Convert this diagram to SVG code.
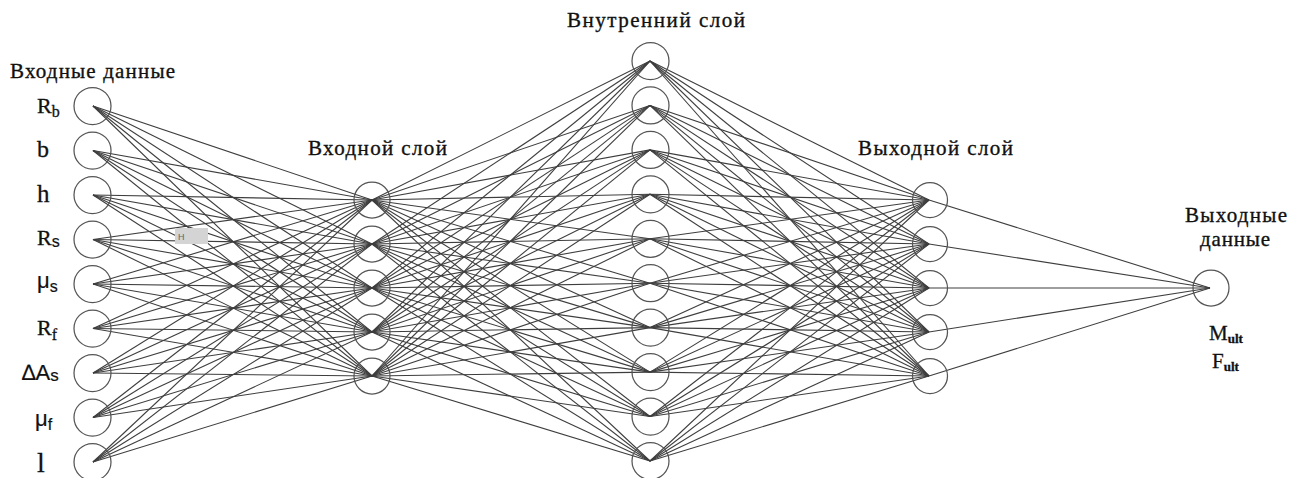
<svg xmlns="http://www.w3.org/2000/svg" width="1289" height="478" viewBox="0 0 1289 478">
  <style>
    .node { fill: none; stroke: #555; stroke-width: 1.25; }
    .edges line { stroke: #3e3e3e; stroke-width: 1.1; }
    .title { font-family: "Liberation Serif", "Times New Roman", serif; font-size: 21px; fill: #111; stroke: #111; stroke-width: 0.35; }
    .serif { font-family: "Liberation Serif", "Times New Roman", serif; fill: #111; stroke: #111; stroke-width: 0.3; }
    .sans { font-family: "Liberation Sans", Arial, sans-serif; fill: #111; stroke: #111; stroke-width: 0.2; }
  </style>
  <rect width="1289" height="478" fill="#fff"/>

  <!-- layer captions -->
  <g id="captions">
    <text class="title" x="10" y="78" textLength="165" lengthAdjust="spacing">Входные данные</text>
    <text class="title" x="308" y="155" textLength="139" lengthAdjust="spacing">Входной слой</text>
    <text class="title" x="567" y="27" textLength="178" lengthAdjust="spacing">Внутренний слой</text>
    <text class="title" x="858" y="155" textLength="155" lengthAdjust="spacing">Выходной слой</text>
    <text class="title" x="1185" y="222" textLength="102" lengthAdjust="spacing">Выходные</text>
    <text class="title" x="1200" y="246" textLength="70" lengthAdjust="spacing">данные</text>
  </g>

  <!-- connectors -->
  <g id="connectors" class="edges">
    <!-- input data -> input layer -->
    <line x1="93" y1="106" x2="372" y2="200"/><line x1="93" y1="106" x2="372" y2="244"/><line x1="93" y1="106" x2="372" y2="288"/><line x1="93" y1="106" x2="372" y2="332"/><line x1="93" y1="106" x2="372" y2="376"/>
    <line x1="93" y1="150.5" x2="372" y2="200"/><line x1="93" y1="150.5" x2="372" y2="244"/><line x1="93" y1="150.5" x2="372" y2="288"/><line x1="93" y1="150.5" x2="372" y2="332"/><line x1="93" y1="150.5" x2="372" y2="376"/>
    <line x1="93" y1="195" x2="372" y2="200"/><line x1="93" y1="195" x2="372" y2="244"/><line x1="93" y1="195" x2="372" y2="288"/><line x1="93" y1="195" x2="372" y2="332"/><line x1="93" y1="195" x2="372" y2="376"/>
    <line x1="93" y1="239.5" x2="372" y2="200"/><line x1="93" y1="239.5" x2="372" y2="244"/><line x1="93" y1="239.5" x2="372" y2="288"/><line x1="93" y1="239.5" x2="372" y2="332"/><line x1="93" y1="239.5" x2="372" y2="376"/>
    <line x1="93" y1="284" x2="372" y2="200"/><line x1="93" y1="284" x2="372" y2="244"/><line x1="93" y1="284" x2="372" y2="288"/><line x1="93" y1="284" x2="372" y2="332"/><line x1="93" y1="284" x2="372" y2="376"/>
    <line x1="93" y1="328.5" x2="372" y2="200"/><line x1="93" y1="328.5" x2="372" y2="244"/><line x1="93" y1="328.5" x2="372" y2="288"/><line x1="93" y1="328.5" x2="372" y2="332"/><line x1="93" y1="328.5" x2="372" y2="376"/>
    <line x1="93" y1="373" x2="372" y2="200"/><line x1="93" y1="373" x2="372" y2="244"/><line x1="93" y1="373" x2="372" y2="288"/><line x1="93" y1="373" x2="372" y2="332"/><line x1="93" y1="373" x2="372" y2="376"/>
    <line x1="93" y1="417.5" x2="372" y2="200"/><line x1="93" y1="417.5" x2="372" y2="244"/><line x1="93" y1="417.5" x2="372" y2="288"/><line x1="93" y1="417.5" x2="372" y2="332"/><line x1="93" y1="417.5" x2="372" y2="376"/>
    <line x1="93" y1="462" x2="372" y2="200"/><line x1="93" y1="462" x2="372" y2="244"/><line x1="93" y1="462" x2="372" y2="288"/><line x1="93" y1="462" x2="372" y2="332"/><line x1="93" y1="462" x2="372" y2="376"/>

    <!-- input layer -> inner layer -->
    <line x1="372" y1="200" x2="650" y2="61"/><line x1="372" y1="200" x2="650" y2="105.4"/><line x1="372" y1="200" x2="650" y2="149.9"/><line x1="372" y1="200" x2="650" y2="194.3"/><line x1="372" y1="200" x2="650" y2="238.8"/><line x1="372" y1="200" x2="650" y2="283.2"/><line x1="372" y1="200" x2="650" y2="327.6"/><line x1="372" y1="200" x2="650" y2="372.1"/><line x1="372" y1="200" x2="650" y2="416.5"/><line x1="372" y1="200" x2="650" y2="461"/>
    <line x1="372" y1="244" x2="650" y2="61"/><line x1="372" y1="244" x2="650" y2="105.4"/><line x1="372" y1="244" x2="650" y2="149.9"/><line x1="372" y1="244" x2="650" y2="194.3"/><line x1="372" y1="244" x2="650" y2="238.8"/><line x1="372" y1="244" x2="650" y2="283.2"/><line x1="372" y1="244" x2="650" y2="327.6"/><line x1="372" y1="244" x2="650" y2="372.1"/><line x1="372" y1="244" x2="650" y2="416.5"/><line x1="372" y1="244" x2="650" y2="461"/>
    <line x1="372" y1="288" x2="650" y2="61"/><line x1="372" y1="288" x2="650" y2="105.4"/><line x1="372" y1="288" x2="650" y2="149.9"/><line x1="372" y1="288" x2="650" y2="194.3"/><line x1="372" y1="288" x2="650" y2="238.8"/><line x1="372" y1="288" x2="650" y2="283.2"/><line x1="372" y1="288" x2="650" y2="327.6"/><line x1="372" y1="288" x2="650" y2="372.1"/><line x1="372" y1="288" x2="650" y2="416.5"/><line x1="372" y1="288" x2="650" y2="461"/>
    <line x1="372" y1="332" x2="650" y2="61"/><line x1="372" y1="332" x2="650" y2="105.4"/><line x1="372" y1="332" x2="650" y2="149.9"/><line x1="372" y1="332" x2="650" y2="194.3"/><line x1="372" y1="332" x2="650" y2="238.8"/><line x1="372" y1="332" x2="650" y2="283.2"/><line x1="372" y1="332" x2="650" y2="327.6"/><line x1="372" y1="332" x2="650" y2="372.1"/><line x1="372" y1="332" x2="650" y2="416.5"/><line x1="372" y1="332" x2="650" y2="461"/>
    <line x1="372" y1="376" x2="650" y2="61"/><line x1="372" y1="376" x2="650" y2="105.4"/><line x1="372" y1="376" x2="650" y2="149.9"/><line x1="372" y1="376" x2="650" y2="194.3"/><line x1="372" y1="376" x2="650" y2="238.8"/><line x1="372" y1="376" x2="650" y2="283.2"/><line x1="372" y1="376" x2="650" y2="327.6"/><line x1="372" y1="376" x2="650" y2="372.1"/><line x1="372" y1="376" x2="650" y2="416.5"/><line x1="372" y1="376" x2="650" y2="461"/>

    <!-- inner layer -> output layer -->
    <line x1="650" y1="61" x2="929" y2="200"/><line x1="650" y1="61" x2="929" y2="244"/><line x1="650" y1="61" x2="929" y2="288"/><line x1="650" y1="61" x2="929" y2="332"/><line x1="650" y1="61" x2="929" y2="376"/>
    <line x1="650" y1="105.4" x2="929" y2="200"/><line x1="650" y1="105.4" x2="929" y2="244"/><line x1="650" y1="105.4" x2="929" y2="288"/><line x1="650" y1="105.4" x2="929" y2="332"/><line x1="650" y1="105.4" x2="929" y2="376"/>
    <line x1="650" y1="149.9" x2="929" y2="200"/><line x1="650" y1="149.9" x2="929" y2="244"/><line x1="650" y1="149.9" x2="929" y2="288"/><line x1="650" y1="149.9" x2="929" y2="332"/><line x1="650" y1="149.9" x2="929" y2="376"/>
    <line x1="650" y1="194.3" x2="929" y2="200"/><line x1="650" y1="194.3" x2="929" y2="244"/><line x1="650" y1="194.3" x2="929" y2="288"/><line x1="650" y1="194.3" x2="929" y2="332"/><line x1="650" y1="194.3" x2="929" y2="376"/>
    <line x1="650" y1="238.8" x2="929" y2="200"/><line x1="650" y1="238.8" x2="929" y2="244"/><line x1="650" y1="238.8" x2="929" y2="288"/><line x1="650" y1="238.8" x2="929" y2="332"/><line x1="650" y1="238.8" x2="929" y2="376"/>
    <line x1="650" y1="283.2" x2="929" y2="200"/><line x1="650" y1="283.2" x2="929" y2="244"/><line x1="650" y1="283.2" x2="929" y2="288"/><line x1="650" y1="283.2" x2="929" y2="332"/><line x1="650" y1="283.2" x2="929" y2="376"/>
    <line x1="650" y1="327.6" x2="929" y2="200"/><line x1="650" y1="327.6" x2="929" y2="244"/><line x1="650" y1="327.6" x2="929" y2="288"/><line x1="650" y1="327.6" x2="929" y2="332"/><line x1="650" y1="327.6" x2="929" y2="376"/>
    <line x1="650" y1="372.1" x2="929" y2="200"/><line x1="650" y1="372.1" x2="929" y2="244"/><line x1="650" y1="372.1" x2="929" y2="288"/><line x1="650" y1="372.1" x2="929" y2="332"/><line x1="650" y1="372.1" x2="929" y2="376"/>
    <line x1="650" y1="416.5" x2="929" y2="200"/><line x1="650" y1="416.5" x2="929" y2="244"/><line x1="650" y1="416.5" x2="929" y2="288"/><line x1="650" y1="416.5" x2="929" y2="332"/><line x1="650" y1="416.5" x2="929" y2="376"/>
    <line x1="650" y1="461" x2="929" y2="200"/><line x1="650" y1="461" x2="929" y2="244"/><line x1="650" y1="461" x2="929" y2="288"/><line x1="650" y1="461" x2="929" y2="332"/><line x1="650" y1="461" x2="929" y2="376"/>

    <!-- output layer -> output data -->
    <line x1="929" y1="200" x2="1210" y2="288"/><line x1="929" y1="244" x2="1210" y2="288"/><line x1="929" y1="288" x2="1210" y2="288"/><line x1="929" y1="332" x2="1210" y2="288"/><line x1="929" y1="376" x2="1210" y2="288"/>
  </g>

  <!-- small grey tag over the first fan -->
  <g id="tag">
    <rect x="175" y="228" width="33" height="16" fill="#d4d4d4"/>
    <text font-family="Liberation Sans, sans-serif" x="178" y="240" font-size="9" fill="#666">H</text>
  </g>

  <!-- input data nodes with labels -->
  <g id="in-Rb"><circle class="node" cx="92.5" cy="106" r="18.5"/><text class="serif" x="37" y="113" font-size="22">R<tspan font-size="16" dy="4">b</tspan></text></g>
  <g id="in-b"><circle class="node" cx="92.5" cy="150.5" r="18.5"/><text class="serif" x="37" y="157" font-size="24">b</text></g>
  <g id="in-h"><circle class="node" cx="92.5" cy="195" r="18.5"/><text class="serif" x="37" y="202" font-size="25">h</text></g>
  <g id="in-Rs"><circle class="node" cx="92.5" cy="239.5" r="18.5"/><text class="serif" x="37" y="245" font-size="22">R<tspan class="sans" font-size="16" dy="2">s</tspan></text></g>
  <g id="in-mus"><circle class="node" cx="92.5" cy="284" r="18.5"/><text class="sans" x="37" y="288" font-size="22">μ<tspan font-size="16" dy="4">s</tspan></text></g>
  <g id="in-Rf"><circle class="node" cx="92.5" cy="328.5" r="18.5"/><text class="serif" x="37" y="335" font-size="22">R<tspan font-size="16" dy="5">f</tspan></text></g>
  <g id="in-dAs"><circle class="node" cx="92.5" cy="373" r="18.5"/><text class="sans" x="22" y="380" font-size="22">∆A<tspan font-size="17" dy="1">s</tspan></text></g>
  <g id="in-muf"><circle class="node" cx="92.5" cy="417.5" r="18.5"/><text class="sans" x="35" y="426" font-size="22">μ<tspan font-size="16" dy="4">f</tspan></text></g>
  <g id="in-l"><circle class="node" cx="92.5" cy="462" r="18.5"/><text class="serif" x="37" y="472" font-size="28">l</text></g>

  <!-- input layer -->
  <g id="h1-1"><circle class="node" cx="372" cy="200" r="18"/></g>
  <g id="h1-2"><circle class="node" cx="372" cy="244" r="18"/></g>
  <g id="h1-3"><circle class="node" cx="372" cy="288" r="18"/></g>
  <g id="h1-4"><circle class="node" cx="372" cy="332" r="18"/></g>
  <g id="h1-5"><circle class="node" cx="372" cy="376" r="18"/></g>

  <!-- inner layer -->
  <g id="h2-1"><circle class="node" cx="650.5" cy="61" r="18.5"/></g>
  <g id="h2-2"><circle class="node" cx="650.5" cy="105.4" r="18.5"/></g>
  <g id="h2-3"><circle class="node" cx="650.5" cy="149.9" r="18.5"/></g>
  <g id="h2-4"><circle class="node" cx="650.5" cy="194.3" r="18.5"/></g>
  <g id="h2-5"><circle class="node" cx="650.5" cy="238.8" r="18.5"/></g>
  <g id="h2-6"><circle class="node" cx="650.5" cy="283.2" r="18.5"/></g>
  <g id="h2-7"><circle class="node" cx="650.5" cy="327.6" r="18.5"/></g>
  <g id="h2-8"><circle class="node" cx="650.5" cy="372.1" r="18.5"/></g>
  <g id="h2-9"><circle class="node" cx="650.5" cy="416.5" r="18.5"/></g>
  <g id="h2-10"><circle class="node" cx="650.5" cy="461" r="18.5"/></g>

  <!-- output layer -->
  <g id="out-1"><circle class="node" cx="930" cy="200" r="17.5"/></g>
  <g id="out-2"><circle class="node" cx="930" cy="244" r="17.5"/></g>
  <g id="out-3"><circle class="node" cx="930" cy="288" r="17.5"/></g>
  <g id="out-4"><circle class="node" cx="930" cy="332" r="17.5"/></g>
  <g id="out-5"><circle class="node" cx="930" cy="376" r="17.5"/></g>

  <!-- output data node -->
  <g id="result">
    <circle class="node" cx="1211" cy="288" r="18"/>
    <text class="serif" x="1209" y="340" font-size="21">M<tspan font-size="13" font-weight="bold" dy="3">ult</tspan></text>
    <text class="serif" x="1212" y="368" font-size="21">F<tspan font-size="13" font-weight="bold" dy="3">ult</tspan></text>
  </g>
</svg>
